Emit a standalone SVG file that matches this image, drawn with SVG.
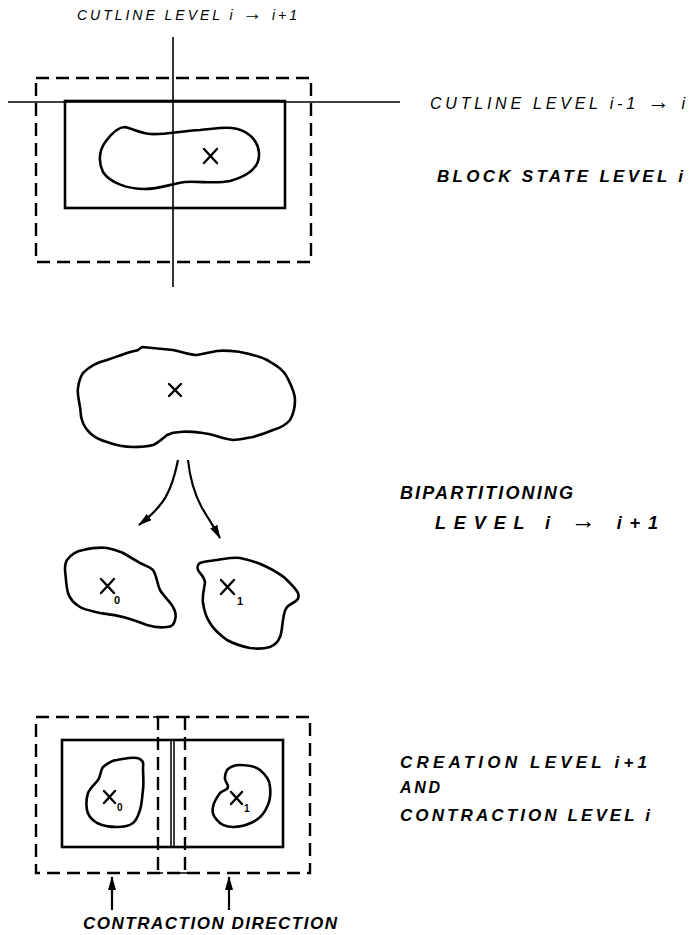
<svg xmlns="http://www.w3.org/2000/svg" width="690" height="935" viewBox="0 0 690 935">
<style>
.bg{fill:#fff}
.thin{fill:none;stroke:#000;stroke-width:1.6}
.solid{fill:none;stroke:#000;stroke-width:2.6}
.div{fill:none;stroke:#000;stroke-width:1.5}
.dash{fill:none;stroke:#000;stroke-width:2.4;stroke-dasharray:13 7}
.blob{fill:none;stroke:#000;stroke-width:2.6;stroke-linejoin:round}
.xm{fill:none;stroke:#000;stroke-width:2.4;stroke-linecap:round}
.arr{fill:none;stroke:#000;stroke-width:2.2}
.lbl{font-family:"Liberation Sans",Arial,sans-serif;font-style:italic;fill:#000}
.sub{font-family:"Liberation Sans",Arial,sans-serif;font-weight:bold;fill:#000}
.ar{font-size:1.4em;font-style:normal}
</style>
<defs>
<marker id="ah" viewBox="0 0 14 8" refX="13" refY="4" markerWidth="14" markerHeight="8" markerUnits="userSpaceOnUse" orient="auto">
<path d="M0,0 L14,4 L0,8 Z" fill="#000"/>
</marker>
</defs>
<rect class="bg" width="690" height="935"/>

<g id="top-block">
<rect class="dash" x="36" y="78" width="275" height="184"/>
<rect class="solid" x="65" y="101" width="220" height="107"/>
<path class="blob" d="M125,127 C133,129 140,133 150,134 C165,135 180,131 200,130 C212,129 222,127 232,128 C248,130 258,140 259,153 C260,167 248,176 230,181 C215,184 200,181 185,182 C170,184 160,189 145,189 C128,189 110,183 103,172 C98,162 99,150 106,141 C112,133 118,127 125,127 Z"/>
<path class="xm" d="M204,149 L217,163 M217,149 L204,163"/>
</g>

<g id="cutlines">
<line class="thin" x1="173" y1="37" x2="173" y2="287"/>
<line class="thin" x1="8" y1="102" x2="400" y2="102"/>
</g>

<g id="labels-top">
<text class="lbl" x="77" y="20" font-size="14" textLength="220" lengthAdjust="spacing">CUTLINE LEVEL i <tspan class="ar">→</tspan> i+1</text>
<text class="lbl" x="430" y="109" font-size="16" textLength="255" lengthAdjust="spacing">CUTLINE LEVEL i-1 <tspan class="ar">→</tspan> i</text>
<text class="lbl" x="437" y="182" font-size="17" font-weight="bold" textLength="246" lengthAdjust="spacing">BLOCK STATE LEVEL i</text>
</g>

<g id="parent">
<path class="blob" d="M78,388 C79,380 81,376 83,373 C90,366 98,362 107,360 C115,357 122,355 127,353 C132,351 136,351 138,350 L142,347 C152,348 163,349 173,350 C183,352 190,355 197,355 C205,354 210,352 217,351 C225,350 232,351 240,352 C250,354 260,356 267,360 C277,366 284,370 287,377 C291,385 295,392 295,400 C295,408 293,415 290,420 C286,425 280,428 273,430 C266,433 260,435 253,437 C246,438 240,440 233,440 C222,439 213,434 203,433 C195,432 186,431 180,432 C174,432 171,433 167,435 C162,439 158,443 153,445 C146,447 140,447 133,447 C124,447 115,445 107,442 C100,440 94,437 90,433 C85,428 83,424 82,420 C80,415 81,411 80,407 C79,400 77,394 78,388 Z"/>
<path class="xm" d="M169,384 L181,396 M181,384 L169,396"/>
</g>

<g id="child0">
<path class="blob" d="M67,560 C72,553 77,551 83,550 C92,548 100,547 107,548 C114,549 118,551 123,553 C130,557 135,560 140,563 C146,566 150,567 153,570 C157,576 157,584 160,590 C164,597 170,601 173,607 C176,612 176,617 175,620 C174,625 171,627 167,627 C160,628 153,627 147,625 C139,622 131,619 123,617 C115,615 107,614 100,613 C92,611 85,610 80,607 C73,603 70,599 68,593 C66,586 66,578 65,570 C65,566 65,563 67,560 Z"/>
<path class="xm" d="M101,579 L114,593 M114,579 L101,593"/>
<text class="sub" x="114" y="604" font-size="11">0</text>
</g>

<g id="child1">
<path class="blob" d="M200,563 C205,561 211,561 217,560 C225,559 232,557 240,558 C250,560 259,563 267,567 C275,571 282,575 287,580 C292,585 296,589 298,593 C299,596 299,598 297,600 C294,603 290,604 287,607 C284,611 284,615 283,620 C282,626 282,632 280,637 C278,642 275,645 270,647 C263,649 257,649 250,648 C241,646 234,644 227,640 C220,635 214,630 210,623 C206,617 204,610 203,603 C202,596 204,589 205,583 C205,577 200,574 198,570 C197,567 198,564 200,563 Z"/>
<path class="xm" d="M221,580 L234,594 M234,580 L221,594"/>
<text class="sub" x="237" y="605" font-size="11">1</text>
</g>

<g id="connectors">
<path class="arr" d="M178,460 C174,480 168,496 160,505 C154,513 148,518 139,525" marker-end="url(#ah)"/>
<path class="arr" d="M188,460 C190,480 195,495 202,508 C208,518 214,527 220,538" marker-end="url(#ah)"/>
<line class="arr" x1="112" y1="910" x2="112" y2="877" marker-end="url(#ah)"/>
<line class="arr" x1="229" y1="910" x2="229" y2="877" marker-end="url(#ah)"/>
</g>

<g id="labels-mid">
<text class="lbl" x="400" y="499" font-size="18" font-weight="bold" textLength="173" lengthAdjust="spacing">BIPARTITIONING</text>
<text class="lbl" x="435" y="529" font-size="18" font-weight="bold" textLength="223" lengthAdjust="spacing">LEVEL  i <tspan class="ar">→</tspan> i+1</text>
</g>

<g id="bottom-block">
<rect class="dash" x="36" y="717" width="274" height="156"/>
<line class="dash" x1="158" y1="717" x2="158" y2="873"/>
<line class="dash" x1="185" y1="717" x2="185" y2="873"/>
<path class="thin" d="M153,873 L163,873 M180,873 L190,873 M153,717 L163,717 M180,717 L190,717"/>
<rect class="solid" x="62" y="740" width="221" height="107"/>
<line class="div" x1="171" y1="740" x2="171" y2="847"/>
<line class="div" x1="174" y1="740" x2="174" y2="847"/>
</g>

<g id="bottom-child0">
<path class="blob" d="M103,767 C108,763 112,760 117,760 C124,759 131,757 137,758 C142,759 144,762 143,767 C143,775 144,783 143,790 C142,797 142,804 140,810 C138,816 137,820 133,823 C128,827 122,827 117,827 C110,827 103,826 97,823 C92,820 88,816 87,810 C86,804 86,799 88,793 C90,788 95,784 98,780 C101,776 100,771 103,767 Z"/>
<path class="xm" d="M104,791 L115,803 M115,791 L104,803"/>
<text class="sub" x="117" y="811" font-size="10">0</text>
</g>

<g id="bottom-child1">
<path class="blob" d="M227,770 C231,766 235,765 240,765 C248,765 255,766 260,770 C266,775 270,780 270,787 C271,795 270,801 267,807 C264,814 259,819 253,822 C247,825 240,827 233,827 C226,827 220,824 217,820 C213,816 212,811 213,807 C214,801 217,797 220,793 C223,790 228,790 228,787 C228,783 224,781 225,777 C225,774 226,772 227,770 Z"/>
<path class="xm" d="M231,792 L242,804 M242,792 L231,804"/>
<text class="sub" x="244" y="812" font-size="10">1</text>
</g>

<g id="labels-bottom">
<text class="lbl" x="400" y="768" font-size="17" font-weight="bold" textLength="247" lengthAdjust="spacing">CREATION  LEVEL i+1</text>
<text class="lbl" x="400" y="793" font-size="16" font-weight="bold" textLength="40" lengthAdjust="spacing">AND</text>
<text class="lbl" x="400" y="821" font-size="17" font-weight="bold" textLength="250" lengthAdjust="spacing">CONTRACTION LEVEL i</text>
<text class="lbl" x="83" y="929" font-size="17" font-weight="bold" textLength="254" lengthAdjust="spacing">CONTRACTION DIRECTION</text>
</g>
</svg>
